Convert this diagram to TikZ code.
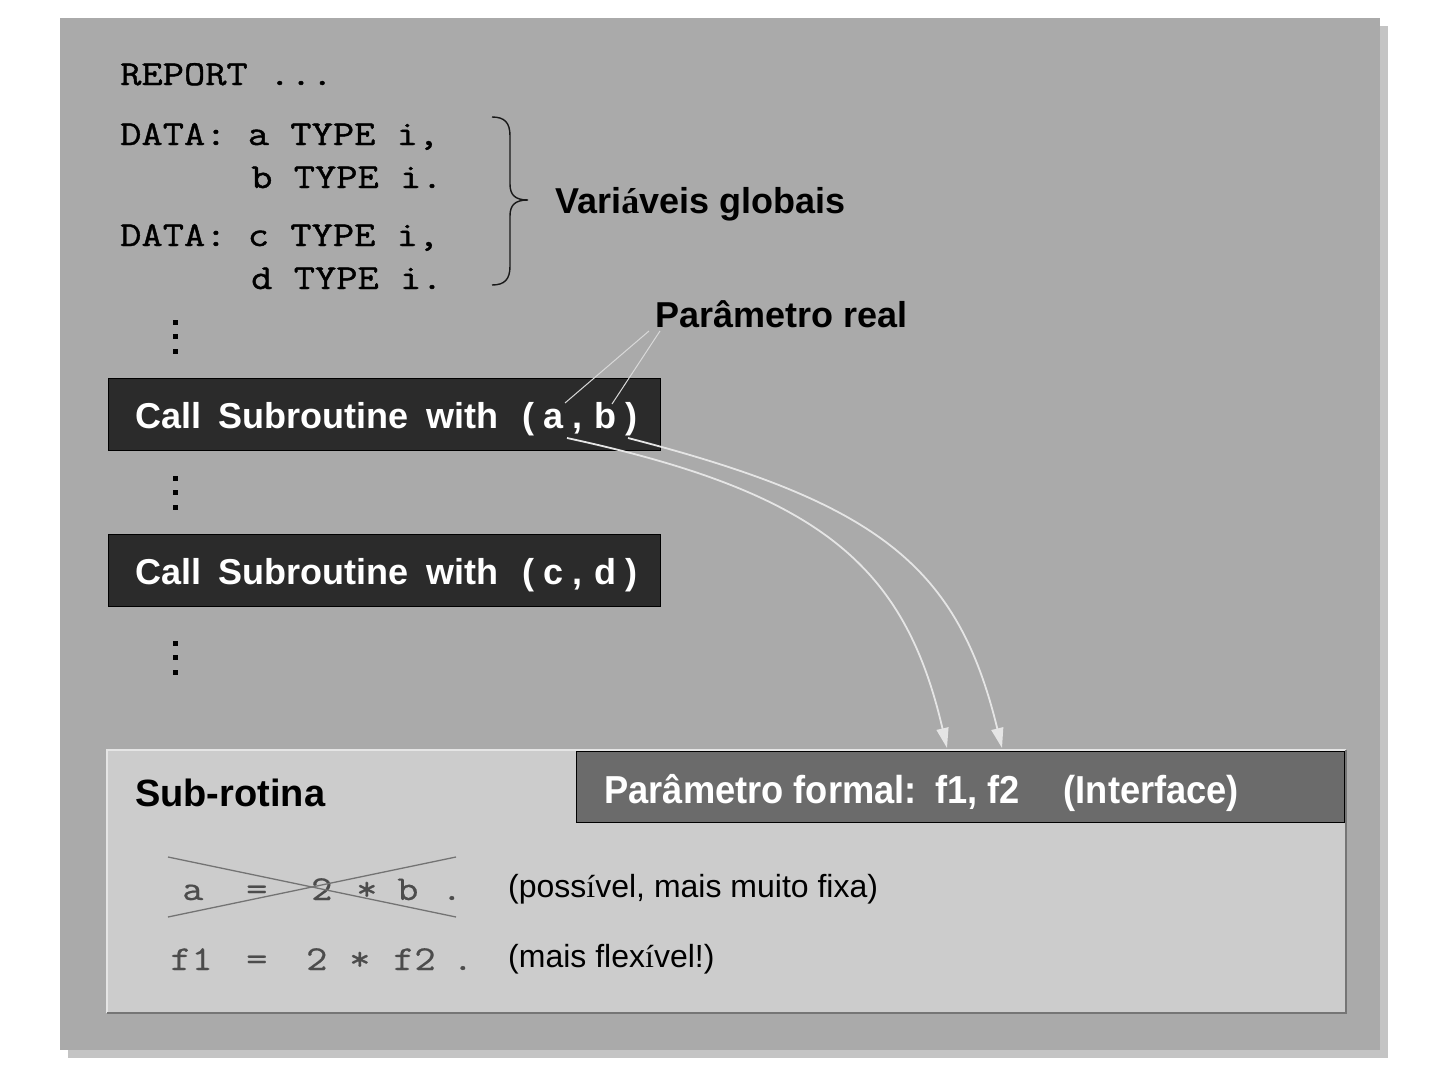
\documentclass[tikz,border=0pt]{standalone}
\usepackage{fontspec}
\setmainfont{Liberation Sans}
\setmonofont{Latin Modern Mono}[FakeStretch=1.18, FakeBold=1.2]
\newfontfamily\subtt{Latin Modern Mono}[FakeStretch=1.18, FakeBold=0.5]
\newfontfamily\tnr{Liberation Serif}
\usetikzlibrary{arrows.meta}
\definecolor{shadowc}{gray}{0.77}
\definecolor{panelc}{gray}{0.667}
\definecolor{subc}{gray}{0.80}
\definecolor{hilc}{gray}{0.90}
\definecolor{lowc}{gray}{0.46}
\definecolor{callc}{gray}{0.17}
\definecolor{headc}{gray}{0.42}
\definecolor{codegray}{gray}{0.30}
\definecolor{arrowc}{gray}{0.90}
\begin{document}
\begin{tikzpicture}[x=1pt,y=-1pt,
  code/.style={font=\fontsize{35}{43}\selectfont\ttfamily, inner sep=0pt, anchor=base west},
  lbl/.style={font=\fontsize{36}{43}\selectfont\bfseries, inner sep=0pt, anchor=base west},
  callbox/.style={draw=black, line width=0.8pt, fill=callc, text=white,
    font=\fontsize{36}{43}\selectfont\bfseries, anchor=north west,
    minimum width=552pt, minimum height=72pt, inner xsep=27pt, inner ysep=0pt,
    text height=28pt, text depth=0pt},
  headbox/.style={draw=black, line width=0.8pt, fill=headc, text=white,
    font=\fontsize{39}{46}\selectfont\bfseries, anchor=north west,
    minimum width=768pt, minimum height=71pt, inner xsep=28pt, inner ysep=0pt,
    text height=33pt, text depth=0pt},
  subcode/.style={font=\fontsize{35}{43}\selectfont\subtt, text=codegray, inner sep=0pt, anchor=base west},
  note/.style={font=\fontsize{32}{38}\selectfont, inner sep=0pt, anchor=base west},
  pointer/.style={draw=gray!30, line width=1pt},
  flow/.style={draw=arrowc, line width=1.8pt, -{Triangle[length=20pt,width=12pt]}},
  strike/.style={draw=gray!90!black, line width=1.3pt},
  dot/.style={fill=black}
]
\useasboundingbox (0,0) rectangle (1440,1068);
\fill[white] (0,0) rectangle (1440,1068);
% outer panel with shadow
\fill[shadowc] (68,26) rectangle (1388,1058);
\fill[panelc] (60,18) rectangle (1380,1050);

% code block
\node[code] (rep) at (120,85) {REPORT ...};
\node[code] (da) at (120,145) {DATA: a TYPE i,};
\node[code] (db) at (251,188) {b TYPE i.};
\node[code] (dc) at (120,246) {DATA: c TYPE i,};
\node[code] (dd) at (251,289) {d TYPE i.};

% brace
\draw[gray!20!black, line width=1.4pt]
  (492,117) .. controls (505,117) and (510,123) .. (510,136)
  -- (510,184) .. controls (510,195) and (515,200) .. (528,200)
  .. controls (515,200) and (510,205) .. (510,216)
  -- (510,266) .. controls (510,279) and (505,285) .. (492,285);

\node[lbl] (glob) at (555,213) {Vari{\tnr\bfseries á}veis globais};
\node[lbl] (preal) at (655,327) {Parâmetro real};

% vertical dots
\foreach \y in {322,336.5,351, 478,492.5,507, 643,657.5,672}
  \fill[dot] (172.5,\y-2.5) rectangle (177.5,\y+2.5);

% call boxes
\node[callbox] (call1) at (108,378) {\makebox[498pt][l]{Call\hspace{17pt}Subroutine\hspace{18pt}with\hspace{24pt}(\hspace{9pt}a\hspace{9pt},\hspace{12pt}b\hspace{9pt})}};
\node[callbox] (call2) at (108,534) {\makebox[498pt][l]{Call\hspace{17pt}Subroutine\hspace{18pt}with\hspace{24pt}(\hspace{9pt}c\hspace{9pt},\hspace{12pt}d\hspace{9pt})}};

% pointer lines from "Parametro real"
\coordinate (pra) at (649,331);
\coordinate (prb) at (660,331);
\coordinate (ta) at (565,403);
\coordinate (tb) at (612,404);
\draw[pointer] (pra) -- (ta);
\draw[pointer] (prb) -- (tb);

% sub-rotina panel
\fill[subc] (107,750) rectangle (1346,1013);
\draw[hilc, line width=2pt] (107,1013) -- (107,750) -- (1346,750);
\draw[lowc, line width=2.2pt] (107,1013) -- (1346,1013) -- (1346,750);
\node[headbox] (head) at (576,751) {\makebox[712pt][l]{\scalebox{0.93}[1]{Parâmetro formal:\hspace{20pt}f1, f2\hspace{47pt}(Interface)}}};
\node[lbl, font=\fontsize{38}{45}\selectfont\bfseries] (subr) at (135,806) {Sub-rotina};

% flows from actual parameters to formal parameters
\coordinate (sa) at (567,438);
\coordinate (sb) at (628,438);
\coordinate (ea) at (947,748);
\coordinate (eb) at (1002,748);
\draw[flow] (sa) .. controls (822,493) and (905,567) .. (ea);
\draw[flow] (sb) .. controls (880,503) and (958,567) .. (eb);

% code in sub-rotina
\node[subcode] (l1) at (182,900) {\makebox[64pt][l]{a}\makebox[65pt][l]{=}\makebox[45pt][l]{2}\makebox[41pt][l]{*}\makebox[44pt][l]{b}.};
\node[subcode] (l2) at (170,970) {\makebox[76pt][l]{f1}\makebox[60pt][l]{=}\makebox[43pt][l]{2}\makebox[44pt][l]{*}\makebox[59pt][l]{f2}.};
\coordinate (x1) at (168,857);
\coordinate (x2) at (456,917);
\coordinate (x3) at (168,917);
\coordinate (x4) at (456,857);
\draw[strike] (x1) -- (x2);
\draw[strike] (x3) -- (x4);

\node[note] (n1) at (508,897) {(poss{\tnr í}vel, mais muito fixa)};
\node[note] (n2) at (508,967) {(mais flex{\tnr í}vel!)};
\end{tikzpicture}
\end{document}
